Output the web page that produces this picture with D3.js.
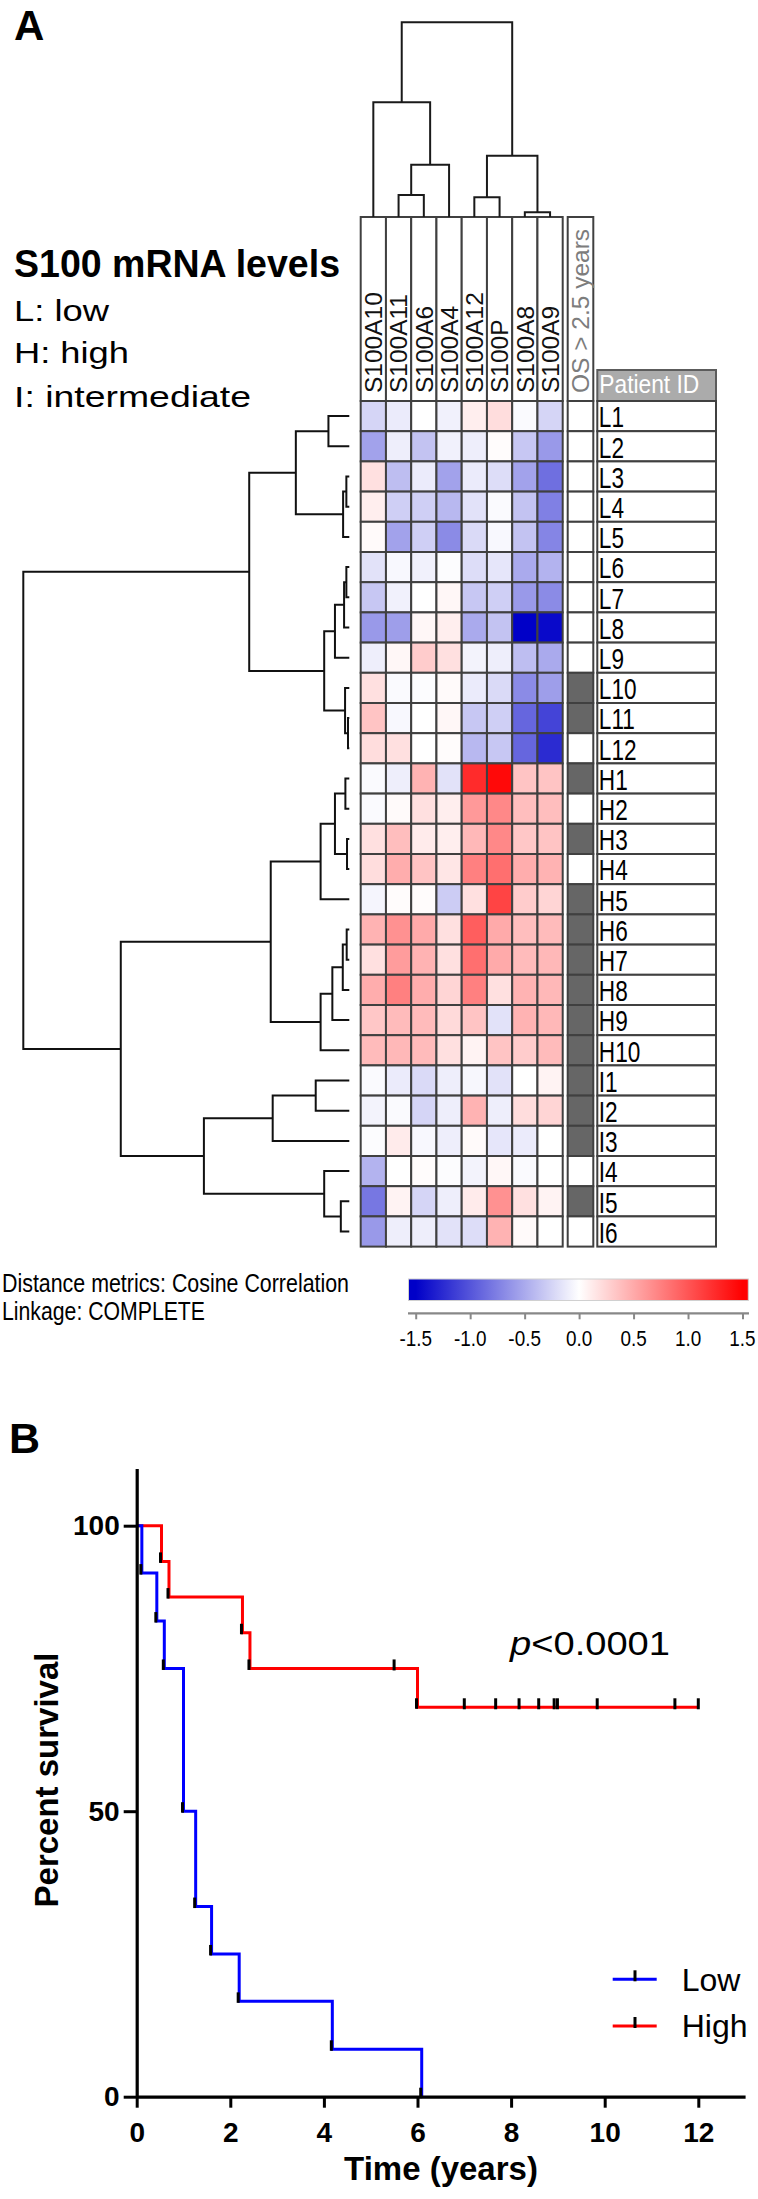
<!DOCTYPE html>
<html><head><meta charset="utf-8">
<script src="https://cdn.jsdelivr.net/npm/d3@7"></script>
<style>body{margin:0;background:#fff}svg{display:block}text{font-family:"Liberation Sans",Arial,Helvetica,sans-serif}</style>
</head><body>
<script>
// ---------------- DATA ----------------
const genes = ["S100A10","S100A11","S100A6","S100A4","S100A12","S100P","S100A8","S100A9"];
const lowIds = ["L1","L2","L3","L4","L5","L6","L7","L8","L9","L10","L11","L12"];
const highIds = ["H1","H2","H3","H4","H5","H6","H7","H8","H9","H10"];
const interIds = ["I1","I2","I3","I4","I5","I6"];
const lowExpr = [
 [-0.25,-0.12,0,-0.08,0.1,0.2,-0.03,-0.25],
 [-0.55,-0.1,-0.35,-0.08,-0.1,0.02,-0.33,-0.6],
 [0.18,-0.38,-0.12,-0.55,-0.12,-0.2,-0.55,-0.85],
 [0.1,-0.28,-0.28,-0.42,-0.17,-0.03,-0.35,-0.75],
 [0.03,-0.55,-0.28,-0.68,-0.22,-0.04,-0.35,-0.72],
 [-0.17,-0.04,-0.08,-0.02,-0.2,-0.15,-0.5,-0.45],
 [-0.33,-0.08,0,0.05,-0.33,-0.28,-0.6,-0.68],
 [-0.6,-0.57,0.05,0.1,-0.5,-0.35,-1.5,-1.45],
 [-0.1,0.05,0.3,0.18,-0.07,-0.1,-0.38,-0.5],
 [0.18,-0.03,-0.02,0.03,-0.12,-0.22,-0.68,-0.57],
 [0.35,-0.04,0,0.05,-0.33,-0.28,-0.9,-1.1],
 [0.2,0.18,0,0.02,-0.42,-0.33,-0.9,-1.25]
];
const highExpr = [
 [-0.03,-0.1,0.45,-0.17,1.25,1.45,0.35,0.35],
 [-0.03,0.03,0.18,0.1,0.6,0.7,0.38,0.38],
 [0.18,0.38,0.12,0.1,0.42,0.7,0.33,0.35],
 [0.2,0.48,0.35,0.15,0.75,0.85,0.48,0.45],
 [-0.06,0.02,0.02,-0.3,0.18,1.1,0.3,0.25],
 [0.45,0.65,0.5,0.18,0.95,0.5,0.38,0.4],
 [0.18,0.58,0.45,0.18,0.85,0.5,0.4,0.42],
 [0.48,0.75,0.48,0.25,0.75,0.18,0.45,0.42],
 [0.33,0.4,0.4,0.22,0.35,-0.17,0.45,0.42],
 [0.4,0.42,0.4,0.18,0.07,0.35,0.3,0.4]
];
const interExpr = [
 [-0.03,-0.12,-0.22,-0.1,-0.05,-0.17,0,0.07],
 [-0.07,-0.03,-0.25,-0.1,0.45,-0.1,0.2,0.25],
 [-0.02,0.12,-0.04,-0.1,0.03,-0.15,-0.12,0],
 [-0.45,0,0.02,-0.02,-0.07,0.05,-0.03,0],
 [-0.8,0.07,-0.25,-0.1,0.12,0.65,0.18,0.07],
 [-0.6,-0.1,-0.1,-0.17,-0.2,0.45,0.03,0]
];
// OS > 2.5 years (1 = yes)
const osLow = [0,0,0,0,0,0,0,0,0,1,1,0];
const osHigh = [1,0,1,0,1,1,1,1,1,1];
const osInter = [1,1,1,0,1,0];
// dendrograms: [left, right, height]
const colDendro = [["S100A10",[["S100A11","S100A6",0.113],"S100A4",0.269],0.589],
                   [["S100A12","S100P",0.101],["S100A8","S100A9",0.024],0.315],1.0];
const rowDendro = [
  [[["L1","L2",0.064],[["L3","L4",0.009],"L5",0.019],0.164],
   [[[["L6","L7",0.009],"L8",0.016],"L9",0.044],["L10",["L11","L12",0.004],0.013],0.077],0.307],
  [[[[["H1","H2",0.012],["H3","H4",0.007],0.044],"H5",0.088],
    [[[["H6","H7",0.008],"H8",0.020],"H9",0.052],"H10",0.088],0.241],
   [[["I1","I2",0.103],"I3",0.235],["I4",["I5","I6",0.026],0.077],0.446],0.701],
  1.0];
const scaleTicks = [-1.5,-1.0,-0.5,0.0,0.5,1.0,1.5];
// Kaplan-Meier
const lowTimes = [0,0.11,0.43,0.59,1.0,1.26,1.6,2.19,4.18,6.09];
const lowSurv  = [100,91.7,83.3,75,50,33.3,25,16.7,8.3,0];
const highTimes = [0,0.53,0.69,2.26,2.42,6.0,12.0];
const highSurv  = [100,93.75,87.5,81.25,75,68.2,68.2];
const highCensorT = [5.5,7.0,7.67,8.17,8.59,8.92,8.99,9.84,11.5,12.0];
const highCensorS = [75,68.2,68.2,68.2,68.2,68.2,68.2,68.2,68.2,68.2];
const kmXTicks = [0,2,4,6,8,10,12];
const kmYTicks = [0,50,100];

// ---------------- DRAW ----------------
const W=758,H=2199;
const svg=d3.select("body").append("svg").attr("width",W).attr("height",H);
const GRID="#404040";

const patients = lowIds.concat(highIds, interIds);
const expr = lowExpr.concat(highExpr, interExpr);
const osv = osLow.concat(osHigh, osInter);

const x = d3.scaleBand().domain(genes).range([360.7,562.7]);
const y = d3.scaleBand().domain(patients).range([401,1246.6]);
const bw=x.bandwidth(), bh=y.bandwidth();
const color = d3.scaleLinear().domain([-1.5,0,1.5]).range(["#0000c8","#ffffff","#ff0000"]).clamp(true);

// Panel label A and legend text
svg.append("text").attr("x",14).attr("y",40).attr("font-size",42).attr("font-weight","bold").text("A");
svg.append("text").attr("x",14).attr("y",277).attr("font-size",38).attr("font-weight","bold")
  .attr("textLength",326).attr("lengthAdjust","spacingAndGlyphs").text("S100 mRNA levels");
[["L: low",321,95],["H: high",363,115],["I: intermediate",407,237]].forEach(d=>{
  svg.append("text").attr("x",14).attr("y",d[1]).attr("font-size",29.5)
    .attr("textLength",d[2]).attr("lengthAdjust","spacingAndGlyphs").text(d[0]);
});

// column headers
const hdr = svg.append("g");
hdr.selectAll("rect").data(genes).join("rect")
  .attr("x",d=>x(d)).attr("y",217).attr("width",bw).attr("height",401-217)
  .attr("fill","#fff").attr("stroke",GRID).attr("stroke-width",2);
hdr.selectAll("text").data(genes).join("text")
  .attr("transform",d=>`translate(${x(d)+bw/2},393) rotate(-90)`)
  .attr("dy","0.36em").attr("font-size",24.5).attr("fill","#111").text(d=>d);

// heatmap cells
const cells=[];
patients.forEach((p,i)=>genes.forEach((g,j)=>cells.push({p,g,v:expr[i][j]})));
svg.append("g").selectAll("rect").data(cells).join("rect")
  .attr("x",d=>x(d.g)).attr("y",d=>y(d.p)).attr("width",bw).attr("height",bh)
  .attr("fill",d=>color(d.v)).attr("stroke",GRID).attr("stroke-width",2);

// OS column
const osX=567.7, osW=25.6;
svg.append("rect").attr("x",osX).attr("y",217).attr("width",osW).attr("height",401-217)
  .attr("fill","#fff").attr("stroke",GRID).attr("stroke-width",2);
svg.append("text").attr("transform",`translate(${osX+osW/2},393) rotate(-90)`)
  .attr("dy","0.36em").attr("font-size",24.5).attr("fill","#7d7d7d").text("OS > 2.5 years");
svg.append("g").selectAll("rect").data(patients).join("rect")
  .attr("x",osX).attr("y",d=>y(d)).attr("width",osW).attr("height",bh)
  .attr("fill",(d,i)=>osv[i]?"#666666":"#ffffff").attr("stroke",GRID).attr("stroke-width",2);

// Patient ID column
const idX=597.3, idW=118.7;
svg.append("rect").attr("x",idX).attr("y",370).attr("width",idW).attr("height",31)
  .attr("fill","#ababab").attr("stroke","#5c5c5c").attr("stroke-width",2);
svg.append("text").attr("x",idX+2).attr("y",393.3).attr("font-size",25).attr("fill","#fff")
  .attr("textLength",100).attr("lengthAdjust","spacingAndGlyphs").text("Patient ID");
const idg=svg.append("g");
idg.selectAll("rect").data(patients).join("rect")
  .attr("x",idX).attr("y",d=>y(d)).attr("width",idW).attr("height",bh)
  .attr("fill","#fff").attr("stroke",GRID).attr("stroke-width",2);
idg.selectAll("text").data(patients).join("text")
  .attr("transform",d=>`translate(${idX+1.5},${y(d)+bh-3.9}) scale(0.78,1)`)
  .attr("font-size",29).attr("fill","#000").text(d=>d);

// dendrograms
function layout(node, leafPos, hs, segs){
  if(typeof node==="string") return {p:leafPos(node), h:hs(0)};
  const a=layout(node[0],leafPos,hs,segs), b=layout(node[1],leafPos,hs,segs);
  const h=hs(node[2]); segs.push({a,b,h});
  return {p:(a.p+b.p)/2, h};
}
const colSegs=[]; layout(colDendro, g=>x(g)+bw/2, d3.scaleLinear().domain([0,1]).range([217,22.3]), colSegs);
svg.append("g").selectAll("path").data(colSegs).join("path")
  .attr("d",s=>`M${s.a.p},${s.a.h}V${s.h}H${s.b.p}V${s.b.h}`)
  .attr("fill","none").attr("stroke","#1a1a1a").attr("stroke-width",2);
const rowSegs=[]; layout(rowDendro, p=>y(p)+bh/2, d3.scaleLinear().domain([0,1]).range([349.3,23.3]), rowSegs);
svg.append("g").selectAll("path").data(rowSegs).join("path")
  .attr("d",s=>`M${s.a.h},${s.a.p}H${s.h}V${s.b.p}H${s.b.h}`)
  .attr("fill","none").attr("stroke","#111").attr("stroke-width",2);

// bottom legend text
svg.append("text").attr("x",2).attr("y",1291.5).attr("font-size",25)
  .attr("textLength",347).attr("lengthAdjust","spacingAndGlyphs").text("Distance metrics: Cosine Correlation");
svg.append("text").attr("x",2).attr("y",1320).attr("font-size",25)
  .attr("textLength",203).attr("lengthAdjust","spacingAndGlyphs").text("Linkage: COMPLETE");

// color bar
const lx = d3.scaleLinear().domain([-1.5,1.5]).range([415.7,742.5]);
const grad = svg.append("defs").append("linearGradient").attr("id","cb")
  .attr("gradientUnits","userSpaceOnUse").attr("x1",lx(-1.5)).attr("x2",lx(1.5)).attr("y1",0).attr("y2",0);
d3.range(0,1.0001,0.1).forEach(t=>grad.append("stop").attr("offset",t).attr("stop-color",color(-1.5+3*t)));
svg.append("rect").attr("x",408.5).attr("y",1279).attr("width",339.8).attr("height",21.5)
  .attr("fill","url(#cb)").attr("stroke","#d0d0d0").attr("stroke-width",1);
const cax = svg.append("g").attr("transform","translate(0,1313.3)")
  .call(d3.axisBottom(lx).tickValues(scaleTicks).tickSize(6).tickSizeOuter(0).tickFormat(""));
cax.select(".domain").remove();
cax.selectAll(".tick line").attr("stroke","#888").attr("stroke-width",2);
svg.append("line").attr("x1",408).attr("x2",749).attr("y1",1313.3).attr("y2",1313.3).attr("stroke","#888").attr("stroke-width",2.2);
svg.append("g").selectAll("text").data(scaleTicks).join("text")
  .attr("transform",d=>`translate(${lx(d)},1346) scale(0.84,1)`)
  .attr("text-anchor","middle").attr("font-size",22.5).text(d=>d.toFixed(1));

// ---------------- KM PLOT ----------------
svg.append("text").attr("x",9).attr("y",1452.7).attr("font-size",43).attr("font-weight","bold").text("B");
const kx = d3.scaleLinear().domain([0,13]).range([136.7,745.1]);
const ky = d3.scaleLinear().domain([0,110]).range([2096.7,1468.6]);

const line = d3.line().x(d=>kx(d[0])).y(d=>ky(d[1])).curve(d3.curveStepAfter);
const lowPts = lowTimes.map((t,i)=>[t,lowSurv[i]]);
const highPts = highTimes.map((t,i)=>[t,highSurv[i]]);
svg.append("path").attr("d",line(highPts)).attr("fill","none").attr("stroke","#ff0000").attr("stroke-width",3);
svg.append("path").attr("d",line(lowPts)).attr("fill","none").attr("stroke","#0000ff").attr("stroke-width",3);

// event ticks (black marks at each drop)
const evts=[];
lowTimes.forEach((t,i)=>{ if(i>0) evts.push([t,lowSurv[i]]); });
highTimes.forEach((t,i)=>{ if(i>0 && highSurv[i]!==highSurv[i-1]) evts.push([t,highSurv[i]]); });
svg.append("g").selectAll("line").data(evts).join("line")
  .attr("x1",d=>kx(d[0])-1).attr("x2",d=>kx(d[0])-1).attr("y1",d=>ky(d[1])-9).attr("y2",d=>ky(d[1])+1.5)
  .attr("stroke","#000").attr("stroke-width",3);
svg.append("g").selectAll("line").data(highCensorT).join("line")
  .attr("x1",d=>kx(d)).attr("x2",d=>kx(d)).attr("y1",(d,i)=>ky(highCensorS[i])-9).attr("y2",(d,i)=>ky(highCensorS[i])+2)
  .attr("stroke","#000").attr("stroke-width",3);

// axes
const yax = svg.append("g").attr("transform",`translate(${kx(0)},0)`)
  .call(d3.axisLeft(ky).tickValues(kmYTicks).tickSize(13).tickSizeOuter(0).tickPadding(4));
const xax = svg.append("g").attr("transform",`translate(0,${ky(0)})`)
  .call(d3.axisBottom(kx).tickValues(kmXTicks).tickSize(11).tickSizeOuter(0).tickPadding(14));
[yax,xax].forEach(a=>{
  a.select(".domain").attr("stroke","#000").attr("stroke-width",3.2);
  a.selectAll(".tick line").attr("stroke","#000").attr("stroke-width",3);
  a.selectAll(".tick text").attr("font-size",28).attr("font-weight","bold").attr("fill","#000")
    .attr("font-family",'"Liberation Sans",Arial,sans-serif');
});
svg.append("text").attr("transform","translate(58.3,1780) rotate(-90)").attr("text-anchor","middle")
  .attr("font-size",33).attr("font-weight","bold").text("Percent survival");
svg.append("text").attr("x",441).attr("y",2180).attr("text-anchor","middle")
  .attr("font-size",33).attr("font-weight","bold").text("Time (years)");

// p value
const pt = svg.append("text").attr("x",510).attr("y",1655).attr("font-size",34)
  .attr("textLength",160).attr("lengthAdjust","spacingAndGlyphs");
pt.append("tspan").attr("font-style","italic").text("p");
pt.append("tspan").text("<0.0001");

// legend
const legend=[["Low","#0000ff",1979.3,1990.7],["High","#ff0000",2026,2037.3]];
legend.forEach(d=>{
  svg.append("line").attr("x1",612.7).attr("x2",656.7).attr("y1",d[2]).attr("y2",d[2]).attr("stroke",d[1]).attr("stroke-width",3);
  svg.append("line").attr("x1",635).attr("x2",635).attr("y1",d[2]-9).attr("y2",d[2]+2).attr("stroke","#000").attr("stroke-width",3);
  svg.append("text").attr("x",681.7).attr("y",d[3]).attr("font-size",32).text(d[0]);
});
</script>
</body></html>
